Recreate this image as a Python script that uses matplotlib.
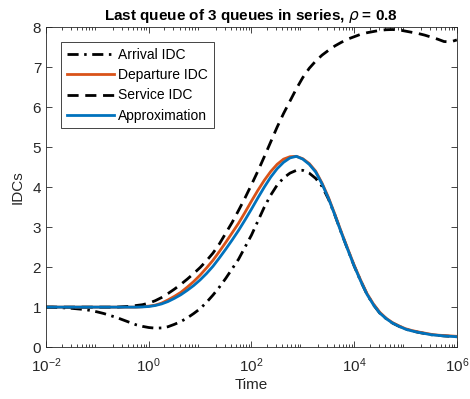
import numpy as np
import matplotlib
matplotlib.use("Agg")
import matplotlib.pyplot as plt

plt.rcParams['font.family'] = ['Liberation Sans', 'DejaVu Sans']

# log10(time) grid: -2 .. 6 in eighth-decade steps (65 points)
log_time = np.linspace(-2, 6, 65)

arrival_idc = [1.0, 1.0, 0.99, 0.98, 0.97, 0.955, 0.94, 0.915, 0.88, 0.84,
               0.79, 0.74, 0.68, 0.62, 0.56, 0.52, 0.49, 0.475, 0.48, 0.51,
               0.57, 0.64, 0.73, 0.84, 0.96, 1.12, 1.3, 1.5, 1.72, 1.96,
               2.2, 2.5, 2.8, 3.15, 3.5, 3.8, 4.05, 4.23, 4.35, 4.42,
               4.42, 4.35, 4.22, 4.02, 3.7, 3.3, 2.86, 2.44, 2.03, 1.66,
               1.32, 1.06, 0.85, 0.71, 0.6, 0.52, 0.45, 0.405, 0.37, 0.34,
               0.31, 0.295, 0.28, 0.27, 0.26]

departure_idc = [1.0] * 15 + [
    1.01, 1.025, 1.05, 1.1, 1.18, 1.27, 1.37, 1.5, 1.64, 1.8,
    1.98, 2.17, 2.39, 2.62, 2.86, 3.1, 3.37, 3.65, 3.92, 4.17,
    4.39, 4.57, 4.7, 4.76, 4.77, 4.71, 4.59, 4.4, 4.1, 3.74,
    3.32, 2.88, 2.46, 2.05, 1.68, 1.34, 1.08, 0.87, 0.72, 0.61,
    0.53, 0.46, 0.415, 0.38, 0.35, 0.32, 0.3, 0.29, 0.28, 0.27]

service_idc = [1.0] * 12 + [
    1.01, 1.02, 1.04, 1.06, 1.1, 1.16, 1.24, 1.34, 1.45, 1.57,
    1.7, 1.84, 1.99, 2.16, 2.35, 2.58, 2.85, 3.12, 3.42, 3.73,
    4.06, 4.4, 4.76, 5.13, 5.5, 5.84, 6.15, 6.46, 6.74, 6.97,
    7.15, 7.3, 7.42, 7.53, 7.62, 7.7, 7.76, 7.82, 7.86, 7.89,
    7.92, 7.935, 7.94, 7.93, 7.9, 7.87, 7.84, 7.8, 7.75, 7.7,
    7.64, 7.63, 7.68]

approximation = [1.0] * 14 + [
    1.0, 1.005, 1.015, 1.04, 1.08, 1.14, 1.22, 1.31, 1.42, 1.54,
    1.68, 1.84, 2.02, 2.23, 2.45, 2.68, 2.92, 3.18, 3.45, 3.73,
    4.0, 4.25, 4.46, 4.62, 4.73, 4.77, 4.7, 4.57, 4.38, 4.08,
    3.72, 3.3, 2.86, 2.44, 2.03, 1.66, 1.32, 1.06, 0.85, 0.71,
    0.6, 0.52, 0.45, 0.405, 0.37, 0.34, 0.31, 0.295, 0.28, 0.27,
    0.26]

time = 10.0 ** log_time

fig = plt.figure(figsize=(4.7, 3.99), dpi=100)
ax = fig.add_axes([0.098, 0.130, 0.874, 0.802])

ax.plot(time, arrival_idc, color='black', linewidth=2, dashes=(4, 2, 0.9, 2),
        label='Arrival IDC')
ax.plot(time, departure_idc, '-', color='#D95319', linewidth=2, label='Departure IDC')
ax.plot(time, service_idc, color='black', linewidth=2, dashes=(4, 2.4),
        label='Service IDC')
ax.plot(time, approximation, '-', color='#0072BD', linewidth=2, label='Approximation')

ax.set_xscale('log')
ax.set_xlim(1e-2, 1e6)
ax.set_ylim(0, 8)
ax.set_xticks([1e-2, 1e0, 1e2, 1e4, 1e6])
ax.set_yticks(range(0, 9))

gray = '#262626'
for s in ax.spines.values():
    s.set_color(gray)
    s.set_linewidth(0.6)
ax.tick_params(which='both', direction='in', top=True, right=True, colors=gray,
               labelsize=11, width=0.6)
ax.tick_params(which='major', length=4)
ax.tick_params(which='minor', length=2)
ax.tick_params(axis='x', pad=7)

ax.set_xlabel('Time', fontsize=11, color=gray, labelpad=2)
ax.set_ylabel('IDCs', fontsize=11, color=gray, labelpad=6)
ax.set_title(r'Last queue of 3 queues in series, $\rho$ = 0.8', fontsize=11,
             fontweight='bold', pad=5)

leg = ax.legend(loc='upper left', fontsize=10, handlelength=3.4, handletextpad=0.3,
                borderpad=0.4, labelspacing=0.45, fancybox=False, framealpha=1,
                borderaxespad=1.1)
leg.get_frame().set_edgecolor(gray)
leg.get_frame().set_linewidth(0.6)

fig.savefig('out.png', dpi=100)
